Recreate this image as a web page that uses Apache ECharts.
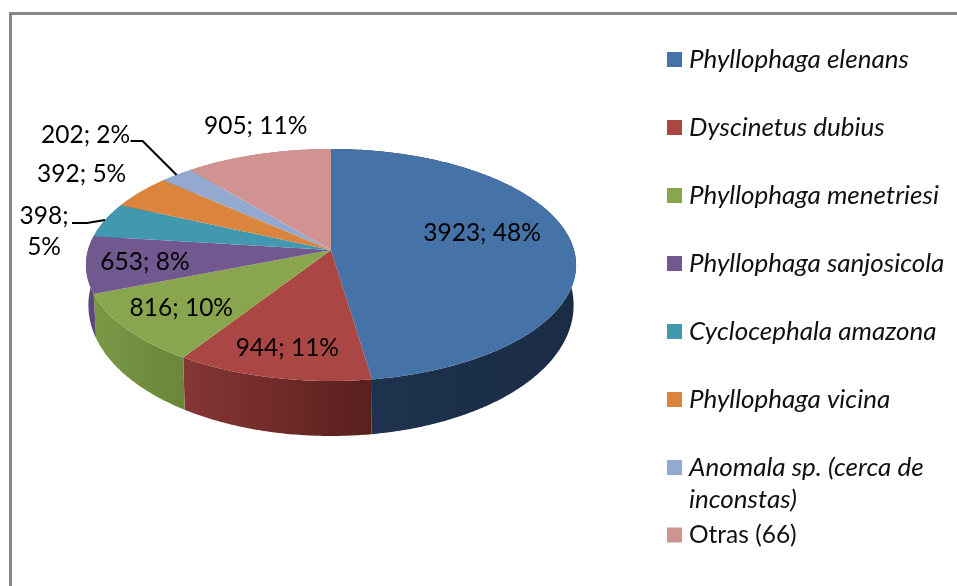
<!DOCTYPE html>
<html><head><meta charset="utf-8">
<style>html,body{margin:0;padding:0;background:#fff}#c{width:957px;height:586px}</style>
<script src="https://cdn.jsdelivr.net/npm/echarts@6/dist/echarts.min.js"></script>
</head><body><div id="c"></div>
<script>
const names = ['Phyllophaga elenans','Dyscinetus dubius','Phyllophaga menetriesi','Phyllophaga sanjosicola','Cyclocephala amazona','Phyllophaga vicina','Anomala sp. (cerca de inconstas)','Otras (66)'];
const values = [3923,944,816,653,398,392,202,905];
const percents = [48,11,10,8,5,5,2,11];
const colors = ['#4572A7','#AA4643','#89A54E','#71588F','#4198AF','#DB843D','#93A9CF','#D19392'];
const wallColors = [['#1f3350','#1a2c45'],['#863636','#581f1c'],['#7a9846','#6a8639'],['#5e4a80','#5a467a'],['#33778a','#33778a'],['#ad6830','#ad6830'],['#7485a3','#7485a3'],['#a57473','#a57473']];
const labelOffsets = [[-89,-9],[15,-30],[55,-21],[59,-2],[-61,12],[-59,-18],[-91,-40],[-2,-28]];
const labelBreak = [false,false,false,false,true,false,false,false];
const leaderOffsets = {4:[[-33,3],[-18,3],[0,0]],6:[[-46,-34],[-34,-34],[0,0]]};

const font = 'Lato, Carlito, Calibri, sans-serif';
const total = values.reduce((a,b)=>a+b,0);
const CX=331, CY=250, A=243, B=114.06, K=-0.1293, D0=38, D1=17;
function angles(i){let s=0;for(let j=0;j<i;j++)s+=values[j];return [s/total*2*Math.PI,(s+values[i])/total*2*Math.PI];}
function proj(t,r){const X=r*Math.sin(t),Y=-r*Math.cos(t),d=1+K*Y;return [CX+A*X/d,CY+B*Y/d];}
function projLow(t){const X=Math.sin(t),Y=-Math.cos(t),d=1+K*Y;return [CX+0.99*A*X/d,CY+B*Y/d+D0+D1*Y];}
function arc(fn,a,b){const n=Math.max(2,Math.ceil((b-a)/0.01)),p=[];for(let i=0;i<=n;i++)p.push(fn(a+(b-a)*i/n));return p;}

function renderWall(params,api){
  const i=api.value(1),[a,b]=angles(i);
  const top=arc(t=>proj(t,1),a,b),low=arc(projLow,a,b).reverse();
  return {type:'polygon',shape:{points:top.concat(low)},style:{fill:{type:'linear',x:0,y:0,x2:1,y2:0,colorStops:[{offset:0,color:wallColors[i][0]},{offset:1,color:wallColors[i][1]}]}}};
}
function renderTop(params,api){
  const i=api.value(1),[a,b]=angles(i);
  return {type:'polygon',shape:{points:[[CX,CY]].concat(arc(t=>proj(t,1),a,b))},style:{fill:colors[i]}};
}
function renderLabel(params,api){
  const i=api.value(1),[a,b]=angles(i),m=(a+b)/2,rim=proj(m,1),o=labelOffsets[i];
  const sep=labelBreak[i]?';\n':'; ';
  const kids=[{type:'text',style:{text:api.value(0)+sep+percents[i]+'%',x:rim[0]+o[0],y:rim[1]+o[1],align:'center',verticalAlign:'middle',fontFamily:font,fontSize:24.5,lineHeight:31,fill:'#000'}}];
  if(leaderOffsets[i])kids.push({type:'polyline',shape:{points:leaderOffsets[i].map(p=>[rim[0]+p[0],rim[1]+p[1]])},style:{stroke:'#000',lineWidth:2,fill:null}});
  return {type:'group',children:kids};
}
const rows=values.map((v,i)=>[v,i]);
const series=[{type:'custom',name:'walls',coordinateSystem:'none',z:1,silent:true,renderItem:renderWall,data:rows}];
names.forEach((n,i)=>series.push({type:'custom',name:n,coordinateSystem:'none',z:2,silent:true,renderItem:renderTop,itemStyle:{color:colors[i]},data:[rows[i]]}));
series.push({type:'custom',name:'labels',coordinateSystem:'none',z:3,silent:true,renderItem:renderLabel,data:rows});

const chart=echarts.init(document.getElementById('c'),null,{renderer:'canvas'});
chart.setOption({
  animation:false,
  backgroundColor:'#fff',
  legend:{
    orient:'vertical',left:667,top:46.5,icon:'rect',itemWidth:15,itemHeight:15,itemGap:42,selectedMode:false,
    padding:0,
    formatter:n=>n.replace(' inconstas)',''),
    textStyle:{fontFamily:font,fontSize:26,color:'#111',lineHeight:24,padding:[0,0,0,2]},
    data:names.map((n,i)=>({name:n,textStyle:i<7?{fontStyle:'italic'}:{fontStyle:'normal',fontSize:24.5}}))
  },
  graphic:[
    {type:'rect',z:0,shape:{x:10.5,y:13.5,width:1200,height:900},style:{fill:'none',stroke:'#868686',lineWidth:3}},
    {type:'text',z:5,style:{text:'inconstas)',x:689,y:500,align:'left',verticalAlign:'middle',fontFamily:font,fontSize:26,fontStyle:'italic',fill:'#111'}}
  ],
  series
});
</script></body></html>
